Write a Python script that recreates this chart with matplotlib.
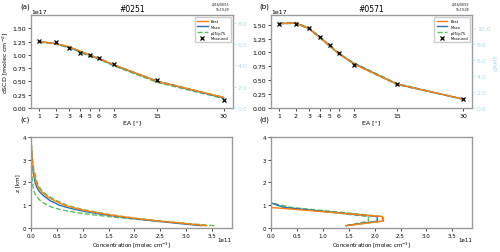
import numpy as np
import matplotlib
matplotlib.use("Agg")
from matplotlib import pyplot as plt

# elevation angles and dSCDs (x1e17)
ea = [1, 2, 3, 4, 5, 6, 8, 15, 30]

a_best = [1.25, 1.21, 1.15, 1.07, 0.99, 0.93, 0.81, 0.50, 0.20]
a_mean = [1.25, 1.21, 1.14, 1.06, 0.99, 0.93, 0.80, 0.50, 0.19]
a_p25 = [1.24, 1.20, 1.13, 1.05, 0.97, 0.92, 0.79, 0.48, 0.18]
a_p75 = [1.25, 1.21, 1.15, 1.07, 1.00, 0.94, 0.81, 0.51, 0.20]
a_meas = [1.26, 1.24, 1.13, 1.04, 0.99, 0.94, 0.82, 0.53, 0.16]

b_best = [1.52, 1.53, 1.43, 1.27, 1.12, 0.98, 0.79, 0.43, 0.16]
b_mean = [1.52, 1.53, 1.43, 1.27, 1.12, 0.98, 0.80, 0.43, 0.16]
b_p25 = [1.52, 1.52, 1.42, 1.26, 1.11, 0.98, 0.79, 0.42, 0.16]
b_p75 = [1.53, 1.54, 1.44, 1.28, 1.13, 0.99, 0.81, 0.44, 0.16]
b_meas = [1.52, 1.51, 1.44, 1.28, 1.13, 0.99, 0.77, 0.43, 0.16]

# profiles (x1e11)
z_c = [0.1, 0.2, 0.3, 0.4, 0.5, 0.6, 0.7, 0.8, 0.9, 1.0, 1.2, 1.4, 1.6,
       1.8, 2.0, 2.5, 3.0, 3.5, 4.0]
c_best = [3.40, 2.95, 2.50, 2.10, 1.75, 1.45, 1.20, 0.98, 0.80, 0.65, 0.45,
          0.30, 0.20, 0.14, 0.10, 0.05, 0.02, 0.01, 0.0]
c_mean = [3.30, 2.85, 2.42, 2.02, 1.68, 1.37, 1.10, 0.88, 0.70, 0.55, 0.37,
          0.25, 0.16, 0.11, 0.08, 0.04, 0.02, 0.01, 0.0]
c_p25 = [3.55, 3.00, 2.45, 1.95, 1.50, 1.12, 0.82, 0.58, 0.42, 0.31, 0.18,
         0.10, 0.06, 0.04, 0.03, 0.01, 0.005, 0.0, 0.0]
c_p75 = [3.38, 2.95, 2.52, 2.13, 1.79, 1.50, 1.25, 1.03, 0.85, 0.70, 0.49,
         0.34, 0.23, 0.16, 0.12, 0.06, 0.03, 0.01, 0.0]

z_d = [0.1, 0.3, 0.5, 0.7, 0.9, 1.1, 1.5, 2.0, 3.0, 4.0]
d_best = [1.45, 2.15, 2.15, 1.08, 0.0, 0.0, 0.0, 0.0, 0.0, 0.0]
d_mean = [1.45, 2.05, 2.05, 1.15, 0.25, 0.0, 0.0, 0.0, 0.0, 0.0]
d_p25 = [1.45, 1.88, 1.88, 1.10, 0.32, 0.0, 0.0, 0.0, 0.0, 0.0]
d_p75 = [1.45, 2.17, 2.17, 1.30, 0.40, 0.0, 0.0, 0.0, 0.0, 0.0]

c_or = "#ff7f0e"
c_bl = "#1f77b4"
c_gr = "#5cc05c"
c_amf = "#a9d8ea"
spine_c = "#9a9a9a"


def style(ax, fs):
    for s in ax.spines.values():
        s.set_color(spine_c)
        s.set_linewidth(1.0)
    ax.tick_params(labelsize=fs, length=2, width=0.5, pad=1.5)


fig = plt.figure(figsize=(5, 2.53), dpi=100)

axes_top = [fig.add_axes([0.062, 0.569, 0.403, 0.368]),
            fig.add_axes([0.542, 0.569, 0.402, 0.368])]
axes_bot = [fig.add_axes([0.062, 0.095, 0.401, 0.36]),
            fig.add_axes([0.542, 0.095, 0.402, 0.36])]

top_sets = [(a_best, a_mean, a_p25, a_p75, a_meas, "#0251", 1.75, 8.75,
             [0, 2, 4, 6, 8], "2016/09/15\n15:19:29"),
            (b_best, b_mean, b_p25, b_p75, b_meas, "#0571", 1.676, 11.67,
             [0, 2, 4, 6, 8, 10], "2016/09/23\n15:19:28")]

for i, (ax, st) in enumerate(zip(axes_top, top_sets)):
    best, mean, p25, p75, meas, title, ytop, rtop, rticks, stamp = st
    ax.set_xscale("function", functions=(np.sqrt, np.square))
    ax.plot(ea, p25, "--", color=c_gr, lw=1.0, label="p25/p75")
    ax.plot(ea, p75, "--", color=c_gr, lw=1.0)
    ax.plot(ea, mean, "-", color=c_bl, lw=1.0, label="Mean")
    ax.plot(ea, best, "-", color=c_or, lw=1.0, label="Best")
    ax.plot(ea, meas, "x", color="k", ms=3, mew=0.9, label="Measured",
            zorder=5)
    ax.set_xlim(0.651, 32.4)
    ax.set_ylim(0, ytop)
    ax.set_xticks(ea)
    ax.set_xticklabels([str(v) for v in ea])
    ax.set_yticks([0, 0.25, 0.5, 0.75, 1.0, 1.25, 1.5])
    ax.set_yticklabels(["%.2f" % v for v in [0, 0.25, 0.5, 0.75, 1.0, 1.25, 1.5]])
    ax.set_title(title, fontsize=5.5, pad=3)
    ax.set_xlabel("EA [°]", fontsize=4.5, labelpad=1)
    style(ax, 4.5)
    ax.text(0.0, 1.015, "1e17", transform=ax.transAxes, fontsize=4.5,
            ha="left", va="bottom")
    ax.text(0.985, 1.04, stamp, transform=ax.transAxes, fontsize=2.2,
            ha="right", va="bottom", linespacing=1.3)
    h, l = ax.get_legend_handles_labels()
    order = [l.index("Best"), l.index("Mean"), l.index("p25/p75"),
             l.index("Measured")]
    ax.legend([h[k] for k in order], [l[k] for k in order], loc="upper right",
              fontsize=2.6, frameon=True, fancybox=False, framealpha=1,
              edgecolor="#cccccc", handlelength=3, borderpad=0.6,
              labelspacing=0.5)

    ax2 = ax.twinx()
    ax2.set_ylim(0, rtop)
    ax2.set_yticks(rticks)
    ax2.set_yticklabels(["%.1f" % v for v in rticks])
    ax2.tick_params(axis="y", colors=c_amf, labelsize=4.5, length=2,
                    width=0.5, pad=1.5)
    for s in ax2.spines.values():
        s.set_visible(False)
    if i == 1:
        ax2.set_ylabel("dAMF", color=c_amf, fontsize=4.5, labelpad=2)

axes_top[0].set_ylabel("dSCD [molec cm$^{-2}$]", fontsize=4.5, labelpad=2)

bot_sets = [(z_c, c_best, c_mean, c_p25, c_p75),
            (z_d, d_best, d_mean, d_p25, d_p75)]
for ax, st in zip(axes_bot, bot_sets):
    z, best, mean, p25, p75 = st
    ax.plot(p25, z, "--", color=c_gr, lw=1.0)
    ax.plot(p75, z, "--", color=c_gr, lw=1.0)
    ax.plot(mean, z, "-", color=c_bl, lw=1.0)
    ax.plot(best, z, "-", color=c_or, lw=1.0)
    ax.set_xlim(0, 3.88)
    ax.set_ylim(0, 4)
    ax.set_xticks([0, 0.5, 1.0, 1.5, 2.0, 2.5, 3.0, 3.5])
    ax.set_xticklabels(["%.1f" % v for v in [0, 0.5, 1.0, 1.5, 2.0, 2.5, 3.0, 3.5]])
    ax.set_yticks([0, 1, 2, 3, 4])
    ax.set_xlabel("Concentration [molec cm$^{-3}$]", fontsize=4.0, labelpad=1)
    style(ax, 4.0)
    ax.text(1.0, -0.1, "1e11", transform=ax.transAxes, fontsize=4.0,
            ha="right", va="top")

axes_bot[0].set_ylabel("z [km]", fontsize=4.0, labelpad=2)

for lab, x, y in [("(a)", 0.05, 0.975), ("(b)", 0.528, 0.975),
                  ("(c)", 0.05, 0.528), ("(d)", 0.528, 0.528)]:
    fig.text(x, y, lab, fontsize=5, ha="center", va="center")

fig.savefig("out.png", dpi=100)
